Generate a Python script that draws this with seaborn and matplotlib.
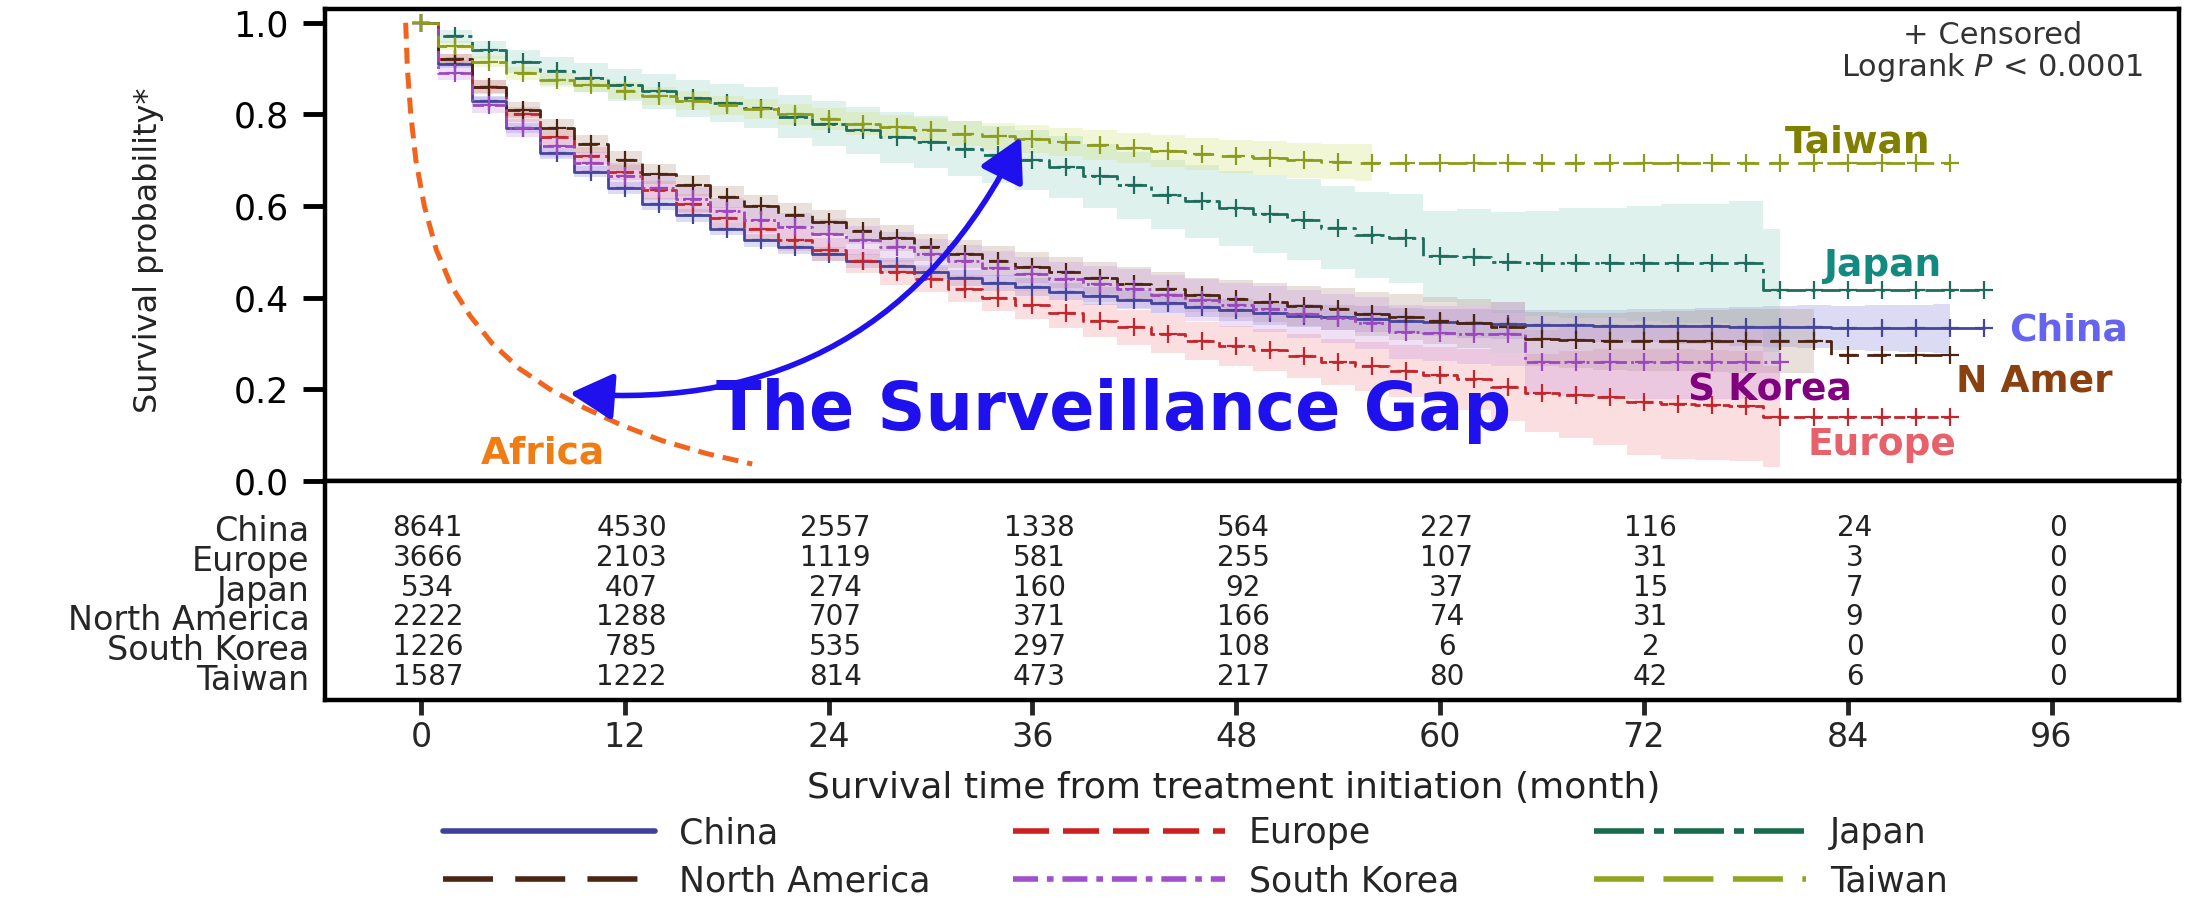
import numpy as np
import pandas as pd
import matplotlib
matplotlib.use("Agg")
import matplotlib.pyplot as plt
import seaborn as sns
from matplotlib.lines import Line2D
from matplotlib.patches import FancyArrowPatch

nan = np.nan

# ---------------------------------------------------------------- data
REGIONS = ["China", "Europe", "Japan", "North America", "South Korea", "Taiwan"]

MONTHS = [0, 2, 4, 6, 8, 10, 12, 14, 16, 18, 20, 22, 24, 26, 28, 30, 32, 34, 36, 38,
          40, 42, 44, 46, 48, 50, 52, 54, 56, 58, 60, 62, 64, 66, 68, 70, 72, 74, 76, 78,
          80, 82, 84, 86, 88, 90, 92]

# Kaplan-Meier survival estimates
CHINA = [1.000, 0.910, 0.830, 0.770, 0.715, 0.675, 0.640, 0.605, 0.580, 0.550,
         0.525, 0.510, 0.495, 0.480, 0.470, 0.455, 0.443, 0.432, 0.423, 0.413,
         0.404, 0.396, 0.388, 0.380, 0.373, 0.366, 0.361, 0.357, 0.353, 0.349,
         0.346, 0.344, 0.342, 0.341, 0.340, 0.339, 0.339, 0.338, 0.338, 0.337,
         0.337, 0.337, 0.333, 0.333, 0.333, 0.333, 0.333]
EUROPE = [1.000, 0.920, 0.860, 0.800, 0.750, 0.710, 0.675, 0.635, 0.605, 0.575,
          0.550, 0.525, 0.505, 0.480, 0.455, 0.440, 0.420, 0.400, 0.385, 0.367,
          0.350, 0.335, 0.320, 0.306, 0.295, 0.285, 0.272, 0.260, 0.250, 0.240,
          0.232, 0.222, 0.205, 0.192, 0.188, 0.184, 0.172, 0.168, 0.165, 0.163,
          0.140, 0.140, 0.140, 0.140, 0.140, 0.140, nan]
JAPAN = [1.000, 0.970, 0.940, 0.915, 0.895, 0.880, 0.865, 0.850, 0.835, 0.825,
         0.815, 0.795, 0.780, 0.765, 0.750, 0.740, 0.725, 0.712, 0.700, 0.685,
         0.665, 0.645, 0.625, 0.610, 0.595, 0.583, 0.570, 0.553, 0.537, 0.530,
         0.490, 0.488, 0.477, 0.475, 0.475, 0.475, 0.475, 0.475, 0.475, 0.475,
         0.416, 0.416, 0.416, 0.416, 0.416, 0.416, 0.416]
NORTH_AMERICA = [1.000, 0.920, 0.860, 0.810, 0.770, 0.735, 0.700, 0.670, 0.645, 0.620,
                 0.600, 0.580, 0.565, 0.545, 0.530, 0.510, 0.495, 0.480, 0.466, 0.455,
                 0.443, 0.430, 0.418, 0.406, 0.398, 0.390, 0.382, 0.375, 0.365, 0.357,
                 0.350, 0.344, 0.335, 0.310, 0.307, 0.305, 0.305, 0.305, 0.305, 0.305,
                 0.305, 0.305, 0.275, 0.275, 0.275, 0.275, nan]
SOUTH_KOREA = [1.000, 0.890, 0.820, 0.770, 0.730, 0.695, 0.665, 0.640, 0.615, 0.590,
               0.570, 0.555, 0.540, 0.525, 0.510, 0.495, 0.480, 0.465, 0.452, 0.440,
               0.430, 0.420, 0.405, 0.395, 0.385, 0.375, 0.365, 0.355, 0.345, 0.325,
               0.322, 0.320, 0.320, 0.260, 0.260, 0.260, 0.260, 0.260, 0.260, 0.260,
               0.260, nan, nan, nan, nan, nan, nan]
TAIWAN = [1.000, 0.950, 0.915, 0.890, 0.875, 0.865, 0.852, 0.840, 0.830, 0.820,
          0.812, 0.800, 0.790, 0.780, 0.772, 0.765, 0.758, 0.752, 0.746, 0.740,
          0.733, 0.726, 0.720, 0.714, 0.709, 0.704, 0.700, 0.697, 0.695, 0.695,
          0.695, 0.695, 0.695, 0.695, 0.695, 0.695, 0.695, 0.695, 0.695, 0.695,
          0.695, 0.695, 0.695, 0.695, 0.695, 0.695, nan]

# half-widths of the 95% confidence bands
CHINA_CI = [0.0, 0.008, 0.010, 0.011, 0.012, 0.012, 0.013, 0.013, 0.014, 0.014,
            0.015, 0.015, 0.016, 0.016, 0.017, 0.017, 0.018, 0.018, 0.019, 0.019,
            0.020, 0.021, 0.022, 0.023, 0.024, 0.025, 0.026, 0.027, 0.028, 0.029,
            0.030, 0.031, 0.032, 0.033, 0.034, 0.035, 0.036, 0.038, 0.040, 0.042,
            0.044, 0.046, 0.048, 0.050, 0.052, 0.054, nan]
EUROPE_CI = [0.0, 0.012, 0.014, 0.016, 0.017, 0.018, 0.019, 0.020, 0.021, 0.022,
             0.023, 0.024, 0.025, 0.026, 0.027, 0.028, 0.029, 0.030, 0.032, 0.034,
             0.036, 0.038, 0.040, 0.042, 0.044, 0.046, 0.048, 0.050, 0.053, 0.056,
             0.060, 0.066, 0.075, 0.085, 0.095, 0.105, 0.115, 0.120, 0.120, 0.120,
             0.110, nan, nan, nan, nan, nan, nan]
JAPAN_CI = [0.0, 0.015, 0.020, 0.025, 0.030, 0.032, 0.035, 0.038, 0.040, 0.042,
            0.045, 0.047, 0.050, 0.052, 0.055, 0.057, 0.060, 0.062, 0.065, 0.068,
            0.070, 0.073, 0.076, 0.079, 0.082, 0.085, 0.088, 0.091, 0.094, 0.097,
            0.100, 0.105, 0.110, 0.115, 0.120, 0.120, 0.125, 0.130, 0.130, 0.135,
            0.135, nan, nan, nan, nan, nan, nan]
NORTH_AMERICA_CI = [0.0, 0.012, 0.015, 0.017, 0.019, 0.020, 0.021, 0.022, 0.023, 0.024,
                    0.025, 0.026, 0.027, 0.028, 0.029, 0.030, 0.031, 0.032, 0.033, 0.034,
                    0.035, 0.036, 0.037, 0.038, 0.040, 0.042, 0.044, 0.046, 0.048, 0.050,
                    0.052, 0.054, 0.056, 0.058, 0.060, 0.062, 0.064, 0.066, 0.068, 0.070,
                    0.070, 0.070, nan, nan, nan, nan, nan]
SOUTH_KOREA_CI = [0.0, 0.015, 0.018, 0.020, 0.022, 0.024, 0.025, 0.026, 0.027, 0.028,
                  0.029, 0.030, 0.031, 0.032, 0.033, 0.034, 0.035, 0.036, 0.037, 0.038,
                  0.040, 0.042, 0.044, 0.046, 0.048, 0.050, 0.052, 0.054, 0.056, 0.058,
                  0.060, 0.065, 0.070, 0.070, 0.075, 0.075, 0.080, 0.080, 0.080, 0.080,
                  0.080, nan, nan, nan, nan, nan, nan]
TAIWAN_CI = [0.0, 0.010, 0.012, 0.014, 0.016, 0.017, 0.018, 0.019, 0.020, 0.021,
             0.022, 0.023, 0.024, 0.025, 0.026, 0.027, 0.028, 0.029, 0.030, 0.031,
             0.032, 0.033, 0.034, 0.035, 0.036, 0.037, 0.038, 0.039, 0.040, nan,
             nan, nan, nan, nan, nan, nan, nan, nan, nan, nan,
             nan, nan, nan, nan, nan, nan, nan]

# number at risk
AT_RISK_MONTHS = [0, 12, 24, 36, 48, 60, 72, 84, 96]
CHINA_AT_RISK = [8641, 4530, 2557, 1338, 564, 227, 116, 24, 0]
EUROPE_AT_RISK = [3666, 2103, 1119, 581, 255, 107, 31, 3, 0]
JAPAN_AT_RISK = [534, 407, 274, 160, 92, 37, 15, 7, 0]
NORTH_AMERICA_AT_RISK = [2222, 1288, 707, 371, 166, 74, 31, 9, 0]
SOUTH_KOREA_AT_RISK = [1226, 785, 535, 297, 108, 6, 2, 0, 0]
TAIWAN_AT_RISK = [1587, 1222, 814, 473, 217, 80, 42, 6, 0]

# sketched Africa curve
AFRICA_MONTHS = [-0.9, -0.8, -0.6, -0.3, 0.2, 0.9, 1.8, 2.9, 4.2, 5.8, 7.6, 9.6, 11.8, 14.2, 16.8, 19.5]
AFRICA_SURV = [1.000, 0.900, 0.800, 0.700, 0.600, 0.505, 0.425, 0.360, 0.300, 0.245, 0.200,
               0.160, 0.122, 0.088, 0.060, 0.037]

Y_TICKS = [0.0, 0.2, 0.4, 0.6, 0.8, 1.0]
X_TICKS = [0, 12, 24, 36, 48, 60, 72, 84, 96]

SURVIVAL = dict(zip(REGIONS, [CHINA, EUROPE, JAPAN, NORTH_AMERICA, SOUTH_KOREA, TAIWAN]))
CI = dict(zip(REGIONS, [CHINA_CI, EUROPE_CI, JAPAN_CI, NORTH_AMERICA_CI, SOUTH_KOREA_CI, TAIWAN_CI]))
AT_RISK = dict(zip(REGIONS, [CHINA_AT_RISK, EUROPE_AT_RISK, JAPAN_AT_RISK,
                             NORTH_AMERICA_AT_RISK, SOUTH_KOREA_AT_RISK, TAIWAN_AT_RISK]))

# ---------------------------------------------------------------- styles
LINE_COLORS = {"China": "#45459c", "Europe": "#c3262c", "Japan": "#1e6d5c",
               "North America": "#4b2412", "South Korea": "#9a48bf", "Taiwan": "#8c9c1c"}
BAND_COLORS = {"China": "#8080d8", "Europe": "#f08a90", "Japan": "#8fcfc0",
               "North America": "#b09080", "South Korea": "#c890e0", "Taiwan": "#cfe070"}
LEGEND_COLORS = {"China": "#3f3f9c", "Europe": "#cc2020", "Japan": "#1a6a4c",
                 "North America": "#4b2412", "South Korea": "#a050cc", "Taiwan": "#93a51e"}
CURVE_STYLES = {"China": "-", "Europe": (0, (4, 2)), "Japan": (0, (7, 2, 1.5, 2)),
                "North America": (0, (7, 3)), "South Korea": (0, (4, 1.5, 1, 1.5)),
                "Taiwan": (0, (7, 3.5))}
LEGEND_STYLES = {"China": "-", "Europe": (0, (6.5, 2.5)), "Japan": (0, (9, 1.8, 1.8, 1.8)),
                 "North America": (0, (9, 4)), "South Korea": (0, (4.5, 1.6, 1.2, 1.6)),
                 "Taiwan": (0, (9, 3.5))}

sns.set_theme(style="ticks")
plt.rcParams["font.family"] = ["DejaVu Sans"]
plt.rcParams["mathtext.fontset"] = "dejavusans"

W, H = 2186, 902
fig = plt.figure(figsize=(W / 100, H / 100), dpi=100)
fig.patch.set_facecolor("white")


def px_box(left, top, right, bottom):
    return [left / W, 1 - bottom / H, (right - left) / W, (bottom - top) / H]


ax = fig.add_axes(px_box(325, 9, 2179, 481))
ax_t = fig.add_axes(px_box(325, 481, 2179, 700))
XLIM = (-5.65, 103.5)

# ---------------------------------------------------------------- survival curves
for region in REGIONS:
    s = np.array(SURVIVAL[region], dtype=float)
    hw = np.array(CI[region], dtype=float)
    ax.fill_between(MONTHS, np.clip(s - hw, 0.03, 1.0), np.clip(s + hw, 0.0, 1.0),
                    step="mid", color=BAND_COLORS[region], alpha=0.28, lw=0, zorder=1)

for region in REGIONS:
    c = LINE_COLORS[region]
    sns.lineplot(x=MONTHS, y=SURVIVAL[region], ax=ax, color=c,
                 linestyle=CURVE_STYLES[region], linewidth=2.0,
                 drawstyle="steps-mid", marker="+", markersize=13, mew=1.6, mec=c,
                 estimator=None, errorbar=None, zorder=3)

# sketched Africa curve
ax.plot(AFRICA_MONTHS, AFRICA_SURV, color="#f0641e", lw=3.6,
        linestyle=(0, (3.2, 1.8)), zorder=4, solid_capstyle="butt")

# double-headed arrow spanning the gap
arrow = FancyArrowPatch((8.6, 0.192), (35.4, 0.756),
                        connectionstyle="arc3,rad=0.34",
                        arrowstyle="<|-|>,head_length=1.1,head_width=0.6",
                        mutation_scale=24, lw=4.0, color="#1f10ee", zorder=6)
ax.add_patch(arrow)

ax.text(40.8, 0.112, "The Surveillance Gap", color="#1f10ee", fontsize=48,
        fontweight="bold", ha="center", va="baseline", zorder=7)

# curve labels
LABELS = [("Taiwan", 84.6, 0.717, "#7f8000"),
          ("Japan", 86.0, 0.447, "#138a80"),
          ("China", 97.0, 0.307, "#6464f0"),
          ("N Amer", 95.0, 0.196, "#8b4010"),
          ("S Korea", 79.4, 0.176, "#800080"),
          ("Europe", 86.0, 0.057, "#e8606a"),
          ("Africa", 7.2, 0.039, "#f07d14")]
for text, x, y, col in LABELS:
    ax.text(x, y, text, color=col, fontsize=27, fontweight="bold",
            ha="center", va="baseline", zorder=7)

ax.text(92.5, 0.972, "+ Censored", fontsize=22, color="#333333", ha="center", va="center")
ax.text(92.5, 0.902, "Logrank $P$ < 0.0001", fontsize=22, color="#333333",
        ha="center", va="center")

ax.set_xlim(*XLIM)
ax.set_ylim(0, 1.03)
ax.set_yticks(Y_TICKS)
ax.set_yticklabels([f"{v:.1f}" for v in Y_TICKS])
ax.tick_params(axis="y", direction="out", length=16, width=3.5, pad=10,
               labelsize=25, colors="black", left=True)
ax.tick_params(axis="x", bottom=False, labelbottom=False)
ax.set_xlabel("")
ax.set_ylabel("Survival probability*", fontsize=23, color="#222222")
ax.yaxis.set_label_coords(-0.087, 0.489)
for sp in ax.spines.values():
    sp.set_visible(True)
    sp.set_linewidth(3.2)
    sp.set_color("black")

# ---------------------------------------------------------------- risk table
row_pos = {r: 5 - i for i, r in enumerate(REGIONS)}
for region in REGIONS:
    for m, n in zip(AT_RISK_MONTHS, AT_RISK[region]):
        ax_t.text(m + 0.4, row_pos[region], str(n), fontsize=20, color="#222222",
                  ha="center", va="center")

ax_t.set_xlim(*XLIM)
ax_t.set_ylim(-0.77, 6.58)
ax_t.set_yticks([row_pos[r] for r in REGIONS])
ax_t.set_yticklabels(REGIONS)
ax_t.tick_params(axis="y", length=0, pad=11, labelsize=24, left=True)
ax_t.set_xticks(X_TICKS)
ax_t.set_xticklabels([str(v) for v in X_TICKS])
ax_t.tick_params(axis="x", direction="out", length=11, width=3.5, pad=4,
                 labelsize=24, bottom=True)
ax_t.set_xlabel("Survival time from treatment initiation (month)", fontsize=26,
                color="#222222")
ax_t.xaxis.set_label_coords(0.49, -0.325)
for sp in ax_t.spines.values():
    sp.set_visible(True)
    sp.set_linewidth(3.2)
    sp.set_color("black")

# ---------------------------------------------------------------- legend
handles = {r: Line2D([], [], color=LEGEND_COLORS[r], lw=4.0, linestyle=LEGEND_STYLES[r])
           for r in REGIONS}
LEGEND_COLUMNS = [(["China", "North America"], 443),
                  (["Europe", "South Korea"], 1013),
                  (["Japan", "Taiwan"], 1594)]
for names, x0 in LEGEND_COLUMNS:
    fig.legend([handles[r] for r in names], names, ncol=1, loc="upper left",
               bbox_to_anchor=(x0 / W, 1 - 816 / H), frameon=False, fontsize=25,
               handlelength=6.1, handletextpad=0.7, labelspacing=0.42,
               borderpad=0, borderaxespad=0)

fig.savefig("out.png", dpi=100, facecolor="white")
